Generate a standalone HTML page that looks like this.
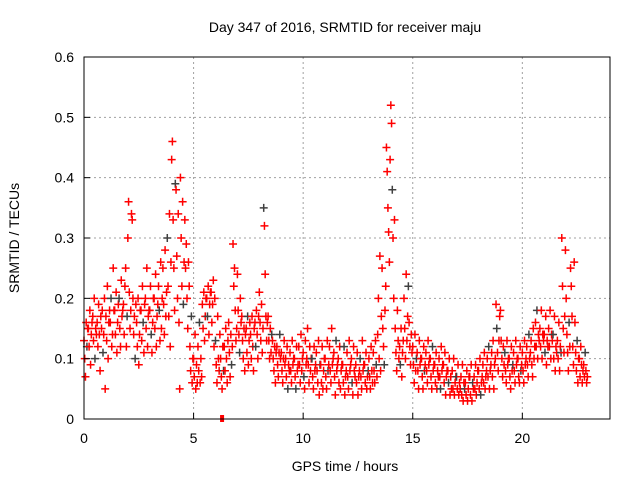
<!DOCTYPE html>
<html><head><meta charset="utf-8"><style>
body{margin:0;background:#fff}
svg{display:block;font-family:"Liberation Sans",sans-serif}
</style></head><body>
<svg id="chart" width="640" height="480">
<text x="345" y="32" font-size="14" text-anchor="middle">Day 347 of 2016, SRMTID for receiver maju</text>
<text x="345" y="471" font-size="14" text-anchor="middle">GPS time / hours</text>
<text transform="translate(19,238) rotate(-90)" font-size="14" text-anchor="middle">SRMTID / TECUs</text>
<g id="grid"></g><g id="marks"></g><g id="axes"></g>
</svg>
<script>
const times=[0,0.2,0.4,0.6,0.8,1,1.2,1.4,1.6,1.8,2,2.2,2.4,2.6,2.8,3,3.2,3.4,3.6,3.8,4,4.2,4.4,4.6,4.8,5,5.2,5.4,5.6,5.8,6,6.2,6.4,6.6,6.8,7,7.2,7.4,7.6,7.8,8,8.2,8.4,8.6,8.8,9,9.2,9.4,9.6,9.8,10,10.2,10.4,10.6,10.8,11,11.2,11.4,11.6,11.8,12,12.2,12.4,12.6,12.8,13,13.2,13.4,13.6,13.8,14,14.2,14.4,14.6,14.8,15,15.2,15.4,15.6,15.8,16,16.2,16.4,16.6,16.8,17,17.2,17.4,17.6,17.8,18,18.2,18.4,18.6,18.8,19,19.2,19.4,19.6,19.8,20,20.2,20.4,20.6,20.8,21,21.2,21.4,21.6,21.8,22,22.2,22.4,22.6,22.8];
const srmtid=[
[.13,.10,.07,.16,.12,.15],[.15,.12,.18,.09,.14,.16],[.17,.13,.20,.10,.15,.14],[.16,.12,.19,.14,.08,.17],[.15,.18,.11,.14,.20,.05],
[.17,.13,.22,.10,.16,.18],[.16,.20,.12,.14,.25,.18],[.18,.14,.21,.11,.16,.19],[.20,.15,.12,.23,.17,.18],[.19,.14,.22,.25,.12,.17],
[.30,.36,.21,.15,.18,.34],[.33,.20,.14,.17,.10,.19],[.16,.12,.20,.09,.14,.18],[.18,.13,.22,.16,.11,.19],[.20,.15,.25,.12,.17,.18],
[.18,.22,.14,.11,.16,.20],[.20,.15,.24,.12,.17,.19],[.22,.18,.13,.26,.15,.20],[.25,.19,.14,.28,.17,.21],[.30,.22,.17,.34,.12,.26],
[.43,.46,.33,.25,.18,.39],[.38,.27,.20,.34,.16,.05],[.40,.30,.22,.36,.19,.26],[.33,.25,.29,.20,.15,.26],[.22,.12,.08,.17,.06,.10],
[.10,.07,.14,.05,.09,.06],[.12,.08,.16,.06,.10,.07],[.19,.15,.21,.13,.17,.20],[.20,.17,.22,.14,.19,.21],[.21,.16,.19,.23,.12,.20],
[.13,.09,.06,.17,.10,.08],[.14,.10,.07,.05,.12,.08],[.12,.08,.15,.10,.06,.13],[.16,.11,.07,.14,.09,.12],[.29,.22,.25,.18,.13,.15],
[.24,.18,.14,.11,.20,.16],[.17,.13,.10,.15,.08,.14],[.15,.11,.17,.09,.13,.16],[.14,.10,.17,.12,.08,.15],[.16,.12,.18,.14,.10,.17],
[.21,.16,.13,.19,.11,.15],[.35,.32,.24,.17,.13,.16],[.17,.13,.10,.15,.11,.14],[.13,.10,.08,.12,.06,.11],[.12,.09,.07,.11,.14,.10],
[.11,.08,.06,.10,.13,.09],[.10,.07,.12,.05,.09,.08],[.11,.08,.06,.13,.09,.10],[.10,.07,.05,.12,.08,.09],[.12,.09,.06,.14,.08,.10],
[.11,.07,.05,.13,.09,.10],[.15,.09,.06,.12,.08,.10],[.10,.07,.05,.12,.08,.09],[.11,.08,.06,.13,.04,.09],[.09,.06,.12,.05,.08,.10],
[.10,.07,.05,.13,.08,.09],[.12,.08,.06,.15,.09,.10],[.11,.07,.04,.13,.08,.09],[.10,.06,.12,.05,.08,.09],[.09,.06,.12,.04,.07,.08],
[.11,.07,.05,.13,.08,.09],[.10,.06,.04,.12,.08,.07],[.09,.06,.11,.04,.07,.08],[.10,.07,.05,.13,.08,.09],[.09,.06,.11,.05,.07,.08],
[.10,.07,.05,.12,.08,.06],[.11,.08,.06,.13,.09,.07],[.14,.20,.10,.27,.08,.17],[.25,.15,.12,.09,.18,.22],[.45,.41,.35,.31,.26,.43],
[.52,.49,.38,.30,.20,.33],[.15,.11,.08,.18,.13,.10],[.12,.09,.15,.07,.11,.13],[.20,.15,.10,.24,.13,.17],[.22,.16,.12,.09,.14,.11],
[.12,.09,.06,.14,.08,.10],[.11,.08,.05,.13,.09,.10],[.10,.07,.05,.12,.08,.09],[.11,.08,.06,.13,.09,.10],[.10,.07,.05,.12,.08,.09],
[.09,.06,.11,.05,.08,.07],[.10,.07,.05,.12,.08,.09],[.09,.06,.11,.04,.07,.08],[.08,.06,.10,.04,.07,.05],[.08,.05,.10,.04,.06,.07],
[.07,.05,.09,.04,.06,.05],[.07,.04,.09,.03,.06,.05],[.06,.04,.08,.03,.05,.07],[.07,.04,.09,.03,.06,.05],[.07,.05,.09,.04,.06,.08],
[.08,.05,.10,.04,.06,.07],[.09,.06,.11,.05,.07,.08],[.10,.07,.12,.05,.08,.09],[.11,.07,.13,.05,.09,.10],[.19,.15,.11,.08,.13,.17],
[.18,.13,.10,.07,.12,.09],[.11,.08,.06,.13,.09,.10],[.10,.07,.05,.12,.08,.09],[.11,.08,.06,.13,.09,.10],[.10,.07,.06,.12,.08,.09],
[.11,.08,.06,.13,.09,.10],[.12,.09,.07,.14,.10,.11],[.13,.09,.07,.15,.10,.12],[.16,.12,.18,.10,.14,.13],[.15,.12,.18,.10,.14,.13],
[.14,.11,.17,.09,.13,.12],[.15,.12,.18,.10,.14,.13],[.14,.10,.17,.08,.12,.11],[.13,.10,.16,.08,.12,.11],[.30,.22,.15,.11,.17,.28],
[.20,.14,.11,.08,.16,.12],[.25,.22,.17,.12,.09,.26],[.16,.11,.08,.13,.06,.10],[.10,.07,.12,.09,.06,.08],[.09,.07,.11,.08,.06,.07]];
const xTicks=[0,5,10,15,20];
const yTicks=[0,0.1,0.2,0.3,0.4,0.5,0.6];
const NS='http://www.w3.org/2000/svg';
const X0=84,X1=610,Y0=419,Y1=57;
const xs=t=>X0+t/24*(X1-X0), ys=v=>Y0-v/0.6*(Y0-Y1);
function mk(tag,at,parent){const e=document.createElementNS(NS,tag);for(const k in at)e.setAttribute(k,at[k]);parent.appendChild(e);return e;}
const grid=document.getElementById('grid'),axes=document.getElementById('axes'),marks=document.getElementById('marks');
xTicks.forEach(t=>{
 if(t>0){const g=mk('line',{x1:xs(t),x2:xs(t),y1:Y0,y2:Y1,stroke:'#a0a0a0','stroke-dasharray':'2,3'},grid);
 
 }
 const l=mk('text',{x:xs(t),y:Y0+24,'font-size':14,'text-anchor':'middle'},axes);l.textContent=t;
 
 
 mk('line',{x1:xs(t),x2:xs(t),y1:Y0,y2:Y0-6,stroke:'#000'},axes);
});
yTicks.forEach(v=>{
 if(v>0){const g=mk('line',{x1:X0,x2:X1,y1:ys(v),y2:ys(v),stroke:'#a0a0a0','stroke-dasharray':'2,3'},grid);
 
 }
 const l=mk('text',{x:X0-10,y:ys(v)+5,'font-size':14,'text-anchor':'end'},axes);l.textContent=v;
 
 
 mk('line',{x1:X0,x2:X0+6,y1:ys(v),y2:ys(v),stroke:'#000'},axes);
});
const frame=mk('rect',{x:X0,y:Y1,width:X1-X0,height:Y0-Y1,fill:'none',stroke:'#000'},axes);


let n=0;
times.forEach((t,i)=>{
 const vals=srmtid[i]||[];
 vals.forEach((v,j)=>{
  const cx=xs(t+j*0.2/vals.length), cy=ys(v);
  const c=(n++%11===4)?'#404040':'#ff0000';
  const p=mk('path',{d:`M${cx-4},${cy}h8M${cx},${cy-4}v8`,stroke:c,'stroke-width':1.5},marks);
  
  
 });
});
const sq=mk('rect',{x:xs(6.3)-2,y:Y0-4,width:4,height:7,fill:'#ff0000'},marks);


</script>
</body></html>
